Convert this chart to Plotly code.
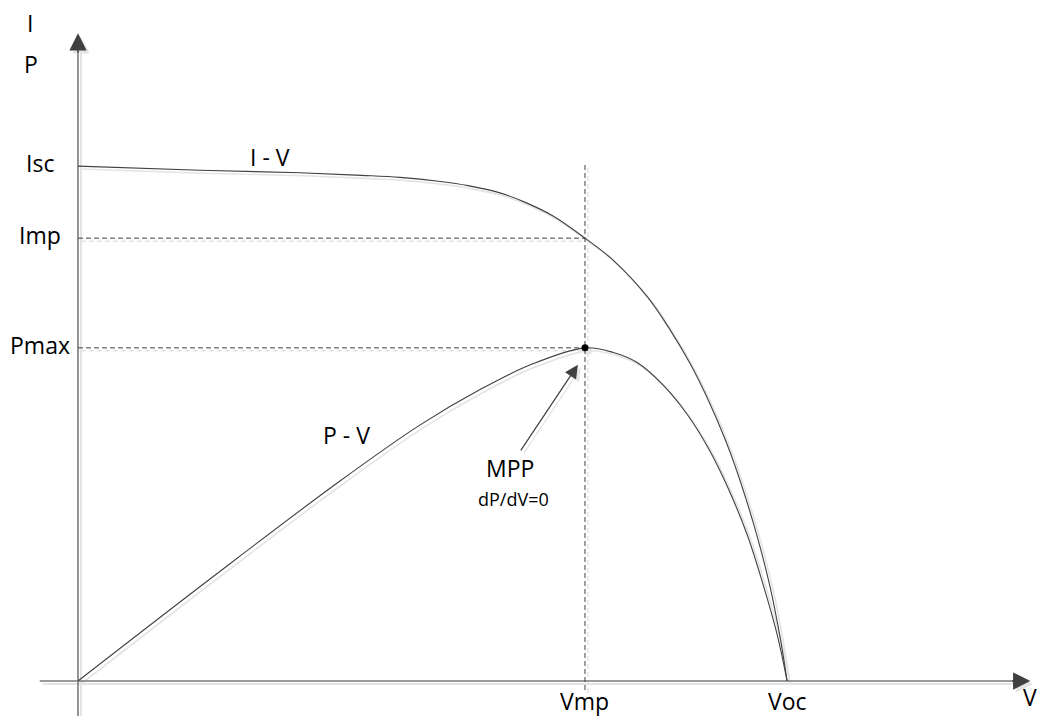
import plotly.graph_objects as go

# normalised units: Voc = 100, Isc = 100 (schematic, no real scale)
v_iv = [0, 17.2, 31.3, 40.0, 45.4, 51.1, 55.0, 59.5, 63.0, 67.0, 71.5, 75.5, 80.3,
        83.5, 86.3, 88.7, 91.3, 93.4, 95.8, 97.6, 99.0, 100]
i_iv = [100, 99.2, 98.7, 98.2, 97.8, 97.0, 96.2, 94.8, 93.0, 90.3, 86.0, 81.7, 74.6,
        68.2, 61.7, 55.1, 46.8, 38.8, 28.0, 18.3, 8.6, 0]

v_pv = [0, 18.8, 36.7, 48.2, 56.7, 63.8, 71.5, 75.5, 78.8, 82.5, 85.9, 88.9,
        91.5, 94.4, 96.6, 98.6, 100]
p_pv = [0, 20.0, 38.6, 49.7, 56.6, 61.4, 64.7, 63.8, 61.9, 57.5, 51.8, 45.2,
        38.0, 28.3, 18.8, 9.0, 0]

VMP, VOC = 71.5, 100
ISC, IMP, PMAX = 100, 86.0, 64.7

y_labels = ['Isc', 'Imp', 'Pmax']
y_label_vals = [ISC, IMP, PMAX]
x_labels = ['Vmp', 'Voc']
x_label_vals = [VMP, VOC]

# page body adds ~8px offset, ranges compensate for it
X_RANGE = [-9.87, 137.5]
Y_RANGE = [-8.35, 130.7]
SHADOW_DX = 0.42   # about 3px
SHADOW_DY = 0.58

LINE = '#404040'
AXIS = '#7a7a7a'
SHADOW = '#e4e4e4'
FONT = 'Open Sans'

fig = go.Figure()


def add_line(x, y, color, width, dash=None, shape='linear'):
    # light copy on the shifted axes gives the drop shadow
    fig.add_trace(go.Scatter(x=x, y=y, mode='lines', xaxis='x', yaxis='y',
                             line=dict(color=SHADOW, width=width + 0.5, dash=dash, shape=shape),
                             hoverinfo='skip', showlegend=False))
    fig.add_trace(go.Scatter(x=x, y=y, mode='lines', xaxis='x2', yaxis='y2',
                             line=dict(color=color, width=width, dash=dash, shape=shape),
                             hoverinfo='skip', showlegend=False))


# axes
add_line([-5.4, 132], [0, 0], AXIS, 1.6)
add_line([0, 0], [-9, 123], AXIS, 1.6)

# guide lines
add_line([0, VMP], [IMP, IMP], LINE, 1, dash='5px,3px')
add_line([0, VMP], [PMAX, PMAX], LINE, 1, dash='5px,3px')
add_line([VMP, VMP], [-1.75, 100.6], LINE, 1, dash='5px,3px')

# curves
add_line(v_iv, i_iv, LINE, 1.1, shape='spline')
add_line(v_pv, p_pv, LINE, 1.1, shape='spline')

# MPP point
fig.add_trace(go.Scatter(x=[VMP], y=[PMAX], mode='markers', xaxis='x', yaxis='y',
                         marker=dict(color=SHADOW, size=8), hoverinfo='skip', showlegend=False))
fig.add_trace(go.Scatter(x=[VMP], y=[PMAX], mode='markers', xaxis='x2', yaxis='y2',
                         marker=dict(color='black', size=7), hoverinfo='skip', showlegend=False))

annotations = []


def arrow(x, y, ax, ay, width, size):
    for xr, yr, col in [('x', 'y', SHADOW), ('x2', 'y2', LINE)]:
        annotations.append(dict(x=x, y=y, ax=ax, ay=ay, xref=xr, yref=yr, axref=xr, ayref=yr,
                                text='', showarrow=True, arrowhead=2, arrowsize=size,
                                arrowwidth=width, arrowcolor=col))


arrow(0, 125.8, 0, 121.6, 1.5, 2.3)
arrow(134.3, 0, 131.5, 0, 1.5, 2.3)
arrow(70.5, 61.4, 62.3, 44.5, 1.2, 2.2)


def label(text, x, y, size=23):
    annotations.append(dict(x=x, y=y, xref='x2', yref='y2', text=text, showarrow=False,
                            font=dict(family=FONT, size=size, color='black'),
                            xanchor='center', yanchor='middle'))


label('I', -6.8, 127.8)
label('P', -6.6, 119.8)
for t, v in zip(y_labels, y_label_vals):
    label(t, -5.4, v + 0.6)
for t, v in zip(x_labels, x_label_vals):
    label(t, v, -3.9)
label('V', 134.3, -3.2)
label('I - V', 27.1, 101.7)
label('P - V', 37.8, 47.8)
label('MPP', 60.9, 41.4)
label('dP/dV=0', 61.4, 35.4, size=18)

fig.update_layout(
    width=1045,
    height=716,
    margin=dict(l=0, r=0, t=0, b=0),
    plot_bgcolor='white',
    paper_bgcolor='white',
    showlegend=False,
    annotations=annotations,
    xaxis=dict(range=[X_RANGE[0] - SHADOW_DX, X_RANGE[1] - SHADOW_DX], visible=False),
    yaxis=dict(range=[Y_RANGE[0] + SHADOW_DY, Y_RANGE[1] + SHADOW_DY], visible=False),
    xaxis2=dict(range=X_RANGE, visible=False, overlaying='x'),
    yaxis2=dict(range=Y_RANGE, visible=False, overlaying='y'),
)

fig.write_html('out.html')
